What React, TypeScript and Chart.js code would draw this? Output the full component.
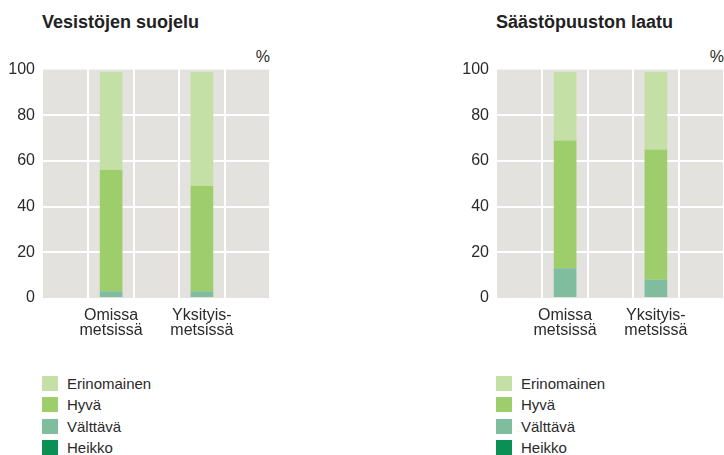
import React, { useEffect, useRef } from "react";
import { Chart, registerables } from "chart.js";

Chart.register(...registerables);

const categories: (string | string[])[] = ["", ["Omissa", "metsissä"], "", ["Yksityis-", "metsissä"], ""];
const seriesNames = ["Heikko", "Välttävä", "Hyvä", "Erinomainen"];
const seriesColors = ["#0a9055", "#80bd9f", "#9ecd6c", "#c5e0a6"];
const yTicks = [0, 20, 40, 60, 80, 100];

// values per group: [Omissa metsissä, Yksityismetsissä]
const vesistotHeikko = [0, 0];
const vesistotValttava = [3, 3];
const vesistotHyva = [53, 46];
const vesistotErinomainen = [43, 50];

const saastoHeikko = [0, 0];
const saastoValttava = [13, 8];
const saastoHyva = [56, 57];
const saastoErinomainen = [30, 34];

const FONT = "'Liberation Sans', Arial, sans-serif";
const TEXT = "#2a2a2a";

const toSlots = (v: number[]) => [null, v[0], null, v[1], null];

const bgPlugin = {
  id: "plotBg",
  beforeDraw(chart: any) {
    const { ctx, chartArea } = chart;
    ctx.save();
    ctx.fillStyle = "#e3e2de";
    ctx.fillRect(chartArea.left, chartArea.top, chartArea.right - chartArea.left, chartArea.bottom - chartArea.top);
    ctx.restore();
  },
};

function Panel({ left, title, series }: { left: number; title: string; series: number[][] }) {
  const ref = useRef<HTMLCanvasElement | null>(null);
  useEffect(() => {
    if (!ref.current) return;
    const chart = new Chart(ref.current, {
      type: "bar",
      data: {
        labels: categories as any,
        datasets: series.map((s, i) => ({
          label: seriesNames[i],
          data: toSlots(s) as any,
          backgroundColor: seriesColors[i],
          borderWidth: 0,
          barPercentage: 0.5,
          categoryPercentage: 1,
        })),
      },
      options: {
        responsive: false,
        animation: false,
        devicePixelRatio: 1,
        layout: { padding: { top: 2, left: 0, right: 0, bottom: 0 } },
        plugins: { legend: { display: false }, title: { display: false }, tooltip: { enabled: false } },
        scales: {
          x: {
            stacked: true,
            offset: true,
            grid: {
              offset: true,
              drawTicks: false,
              lineWidth: 2,
              color: (c: any) => (c.index === 0 || c.index >= categories.length ? "rgba(0,0,0,0)" : "#ffffff"),
            },
            border: { display: false },
            ticks: {
              autoSkip: false,
              maxRotation: 0,
              padding: 10,
              color: TEXT,
              font: { family: FONT, size: 16, lineHeight: 0.95 },
            },
            afterFit: (s: any) => {
              s.height = 50;
            },
          },
          y: {
            stacked: true,
            min: 0,
            max: 100,
            afterBuildTicks: (s: any) => {
              s.ticks = yTicks.map((v) => ({ value: v }));
            },
            grid: {
              drawTicks: false,
              lineWidth: 2,
              color: (c: any) => (c.tick && (c.tick.value === 0 || c.tick.value === 100) ? "rgba(0,0,0,0)" : "#ffffff"),
            },
            border: { display: false },
            ticks: {
              padding: 8,
              color: TEXT,
              font: { family: FONT, size: 16 },
            },
            afterFit: (s: any) => {
              s.width = 43;
            },
          },
        },
      },
      plugins: [bgPlugin],
    });
    return () => chart.destroy();
  }, []);

  const legendOrder = [3, 2, 1, 0];
  return (
    <div style={{ position: "absolute", left, top: 0, width: 270, height: 455 }}>
      <div
        style={{
          position: "absolute",
          left: 42,
          top: 11,
          font: `bold 18px ${FONT}`,
          lineHeight: "22px",
          color: "#222",
          whiteSpace: "nowrap",
        }}
      >
        {title}
      </div>
      <div
        style={{
          position: "absolute",
          right: 0,
          top: 49,
          font: `16px ${FONT}`,
          lineHeight: "16px",
          color: TEXT,
        }}
      >
        %
      </div>
      <canvas ref={ref} width={270} height={296} style={{ position: "absolute", left: 0, top: 52, display: "block" }} />
      {legendOrder.map((si, r) => (
        <div
          key={si}
          style={{
            position: "absolute",
            left: 42,
            top: 376 + r * 21.3,
            height: 15,
            display: "flex",
            alignItems: "center",
            whiteSpace: "nowrap",
          }}
        >
          <span style={{ display: "inline-block", width: 16, height: 15, background: seriesColors[si] }} />
          <span style={{ marginLeft: 9, font: `15px ${FONT}`, lineHeight: "15px", color: TEXT }}>{seriesNames[si]}</span>
        </div>
      ))}
    </div>
  );
}

export default function App() {
  return (
    <div style={{ position: "fixed", left: 0, top: 0, width: 724, height: 455, background: "#fff", overflow: "hidden" }}>
      <Panel
        left={0}
        title="Vesistöjen suojelu"
        series={[vesistotHeikko, vesistotValttava, vesistotHyva, vesistotErinomainen]}
      />
      <Panel
        left={454}
        title="Säästöpuuston laatu"
        series={[saastoHeikko, saastoValttava, saastoHyva, saastoErinomainen]}
      />
    </div>
  );
}
